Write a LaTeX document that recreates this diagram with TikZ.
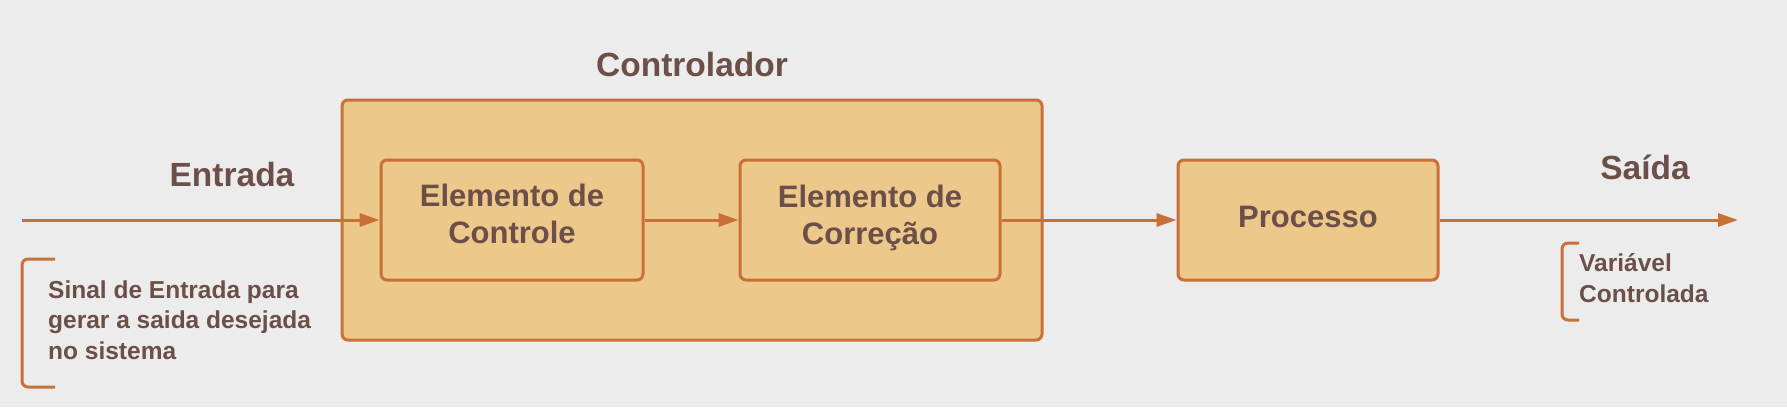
\documentclass[tikz,border=0pt]{standalone}
\usepackage{fontspec}
\setmainfont{Liberation Sans}
\usetikzlibrary{arrows.meta}
\definecolor{fundo}{RGB}{236,236,236}
\definecolor{caixa}{RGB}{236,200,138}
\definecolor{borda}{RGB}{201,112,54}
\definecolor{texto}{RGB}{107,79,72}
\newcommand{\rotuloFonte}{\fontsize{33.5}{38}\selectfont\bfseries}
\newcommand{\caixaFonte}{\fontsize{31}{37}\selectfont\bfseries}
\newcommand{\notaFonte}{\fontsize{24.5}{30.5}\selectfont\bfseries}

\begin{document}
\begin{tikzpicture}[x=1pt, y=-1pt,
    bloco/.style={draw=borda, fill=caixa, line width=3pt, rounded corners=6pt, inner sep=0pt},
    blocoTexto/.style={text=texto, align=center, font=\caixaFonte, inner sep=0pt},
    rotulo/.style={text=texto, font=\rotuloFonte, inner sep=0pt},
    nota/.style={text=texto, font=\notaFonte, align=left, anchor=west, inner sep=0pt},
    fluxo/.style={draw=borda, line width=3pt, -{Triangle[length=20pt,width=13pt]}},
    chave/.style={draw=borda, line width=3pt, rounded corners=6pt}]
\useasboundingbox[fill=fundo] (0,0) rectangle (1787,407);
% controlador
\node[bloco, minimum width=700pt, minimum height=240pt] (controlador) at (692,220) {};
\node[rotulo] (tituloCtrl) at (692,65) {Controlador};
\node[bloco, minimum width=262pt, minimum height=120pt] (controle) at (512,220) {};
\node[blocoTexto] (controleTexto) at (512,214) {Elemento de\\Controle};
\node[bloco, minimum width=260pt, minimum height=120pt] (correcao) at (870,220) {};
\node[blocoTexto] (correcaoTexto) at (870,217.5) {Elemento de\\Correção};
\node[bloco, minimum width=260pt, minimum height=120pt] (processo) at (1308,220) {};
\node[blocoTexto] (processoTexto) at (1308,217) {Processo};
% entrada e saida
\coordinate (inicio) at (22,220);
\coordinate (fim) at (1738,220);
\node[rotulo] (entrada) at (232,175) {Entrada};
\node[rotulo] (saida) at (1645,167) {Saída};
\draw[fluxo] (inicio) -- (controle.west);
\draw[fluxo] (controle.east) -- (correcao.west);
\draw[fluxo] (correcao.east) -- (processo.west);
\draw[fluxo] (processo.east) -- (fim);
% notas
\draw[chave] (55,259) -- (22,259) -- (22,387) -- (55,387);
\node[nota] (notaEntrada) at (48,320) {Sinal de Entrada para\\gerar a saida desejada\\no sistema};
\draw[chave] (1579,243) -- (1562,243) -- (1562,320) -- (1579,320);
\node[nota] (notaSaida) at (1579,278) {Variável\\Controlada};
\end{tikzpicture}
\end{document}
